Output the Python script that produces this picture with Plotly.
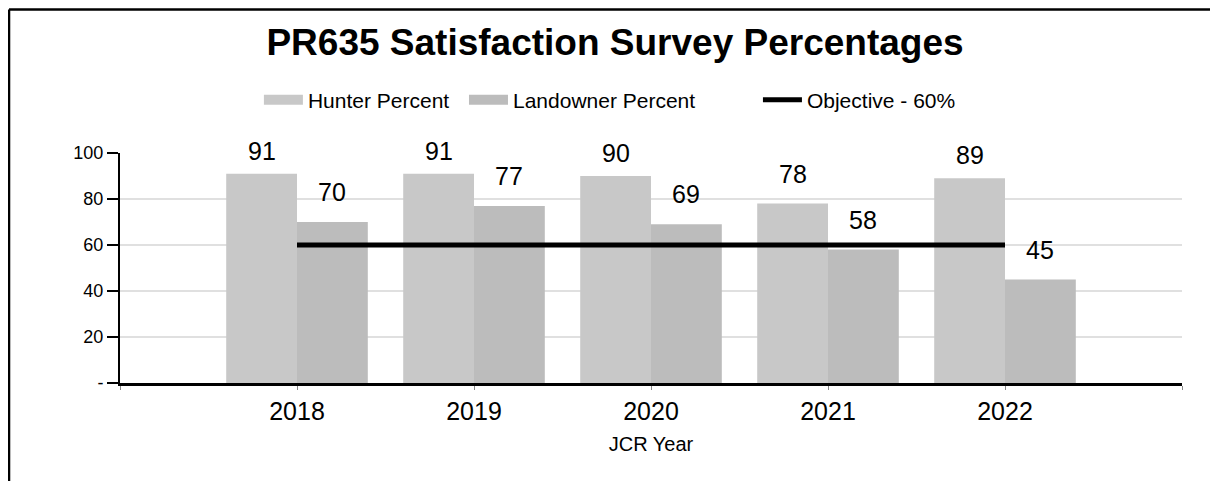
import plotly.graph_objects as go

years = ["2018", "2019", "2020", "2021", "2022"]
hunter = [91, 91, 90, 78, 89]
landowner = [70, 77, 69, 58, 45]
objective = [60, 60, 60, 60, 60]

idx = list(range(len(years)))
HUNTER_C = "#c8c8c8"
LAND_C = "#bcbcbc"
FONT = "Liberation Sans, Arial, sans-serif"

fig = go.Figure()
fig.add_trace(go.Bar(x=idx, y=hunter, name="Hunter Percent", marker=dict(color=HUNTER_C, line=dict(width=0)),
                     offsetgroup="h", showlegend=False, legendgroup="h"))
fig.add_trace(go.Bar(x=idx, y=landowner, name="Landowner Percent", marker=dict(color=LAND_C, line=dict(width=0)),
                     offsetgroup="l", showlegend=False, legendgroup="l"))
fig.add_trace(go.Scatter(x=idx, y=objective, name="Objective - 60%", mode="lines",
                         line=dict(color="black", width=5), legend="legend3"))
# legend keys (wide swatches) for the bar series
fig.add_trace(go.Scatter(x=[None], y=[None], name="Hunter Percent", mode="lines",
                         line=dict(color=HUNTER_C, width=16), legendgroup="h", legend="legend"))
fig.add_trace(go.Scatter(x=[None], y=[None], name="Landowner Percent", mode="lines",
                         line=dict(color=LAND_C, width=16), legendgroup="l", legend="legend2"))


def label_shift(v):
    # labels near the top of the plot sit closer to their bars
    return 7 if v >= 85 else 14


annotations = []
for i, (h, l) in enumerate(zip(hunter, landowner)):
    annotations.append(dict(x=i - 0.2, y=h, text=str(h), showarrow=False, yanchor="bottom",
                            yshift=label_shift(h), font=dict(size=25, color="black", family=FONT)))
    annotations.append(dict(x=i + 0.2, y=l, text=str(l), showarrow=False, yanchor="bottom",
                            yshift=label_shift(l), font=dict(size=25, color="black", family=FONT)))

legend_common = dict(orientation="h", xanchor="left", y=1.23, yanchor="middle",
                     font=dict(size=21, color="black"), bgcolor="rgba(0,0,0,0)",
                     itemclick=False, itemdoubleclick=False, itemwidth=39)

fig.update_layout(
    width=1210, height=473,
    margin=dict(l=112, r=36, t=145, b=98),
    paper_bgcolor="white", plot_bgcolor="white",
    barmode="group", bargap=0.2, bargroupgap=0,
    font=dict(family=FONT, color="black"),
    title=dict(text="<b>PR635 Satisfaction Survey Percentages</b>", x=607 / 1210, xanchor="center",
               y=1 - 34 / 473, yanchor="middle", yref="container",
               font=dict(size=37, color="black", family=FONT)),
    legend=dict(x=0.1308, **legend_common),
    legend2=dict(x=0.3239, **legend_common),
    legend3=dict(x=0.6007, **legend_common),
    annotations=annotations,
    showlegend=True,
)
fig.update_xaxes(range=[-1, 5], tickmode="array", tickvals=[-1] + idx + [5], ticktext=[""] + years + [""],
                 showgrid=False, showline=True, linecolor="black", linewidth=3,
                 ticks="outside", ticklen=4, tickcolor="#888", tickwidth=1,
                 tickfont=dict(size=25, color="black"),
                 title=dict(text="JCR Year", font=dict(size=20, color="black"), standoff=13),
                 zeroline=False, fixedrange=True)
fig.update_yaxes(range=[0, 100], tickmode="array", tickvals=[0, 20, 40, 60, 80, 100],
                 ticktext=["-", "20", "40", "60", "80", "100"],
                 showgrid=True, gridcolor="#e0e0e0", gridwidth=2,
                 showline=True, linecolor="black", linewidth=2,
                 ticks="outside", ticklen=11, tickcolor="black", tickwidth=2,
                 tickfont=dict(size=18, color="black"), zeroline=False, fixedrange=True)

# outer frame (left and top edges)
fig.add_shape(type="line", xref="paper", yref="paper", x0=-0.1045, x1=-0.1045, y0=-0.6, y1=1.624,
              line=dict(color="black", width=2.5))
fig.add_shape(type="line", xref="paper", yref="paper", x0=-0.1045, x1=1.1, y0=1.624, y1=1.624,
              line=dict(color="black", width=2.5))

fig.write_html("out.html")
